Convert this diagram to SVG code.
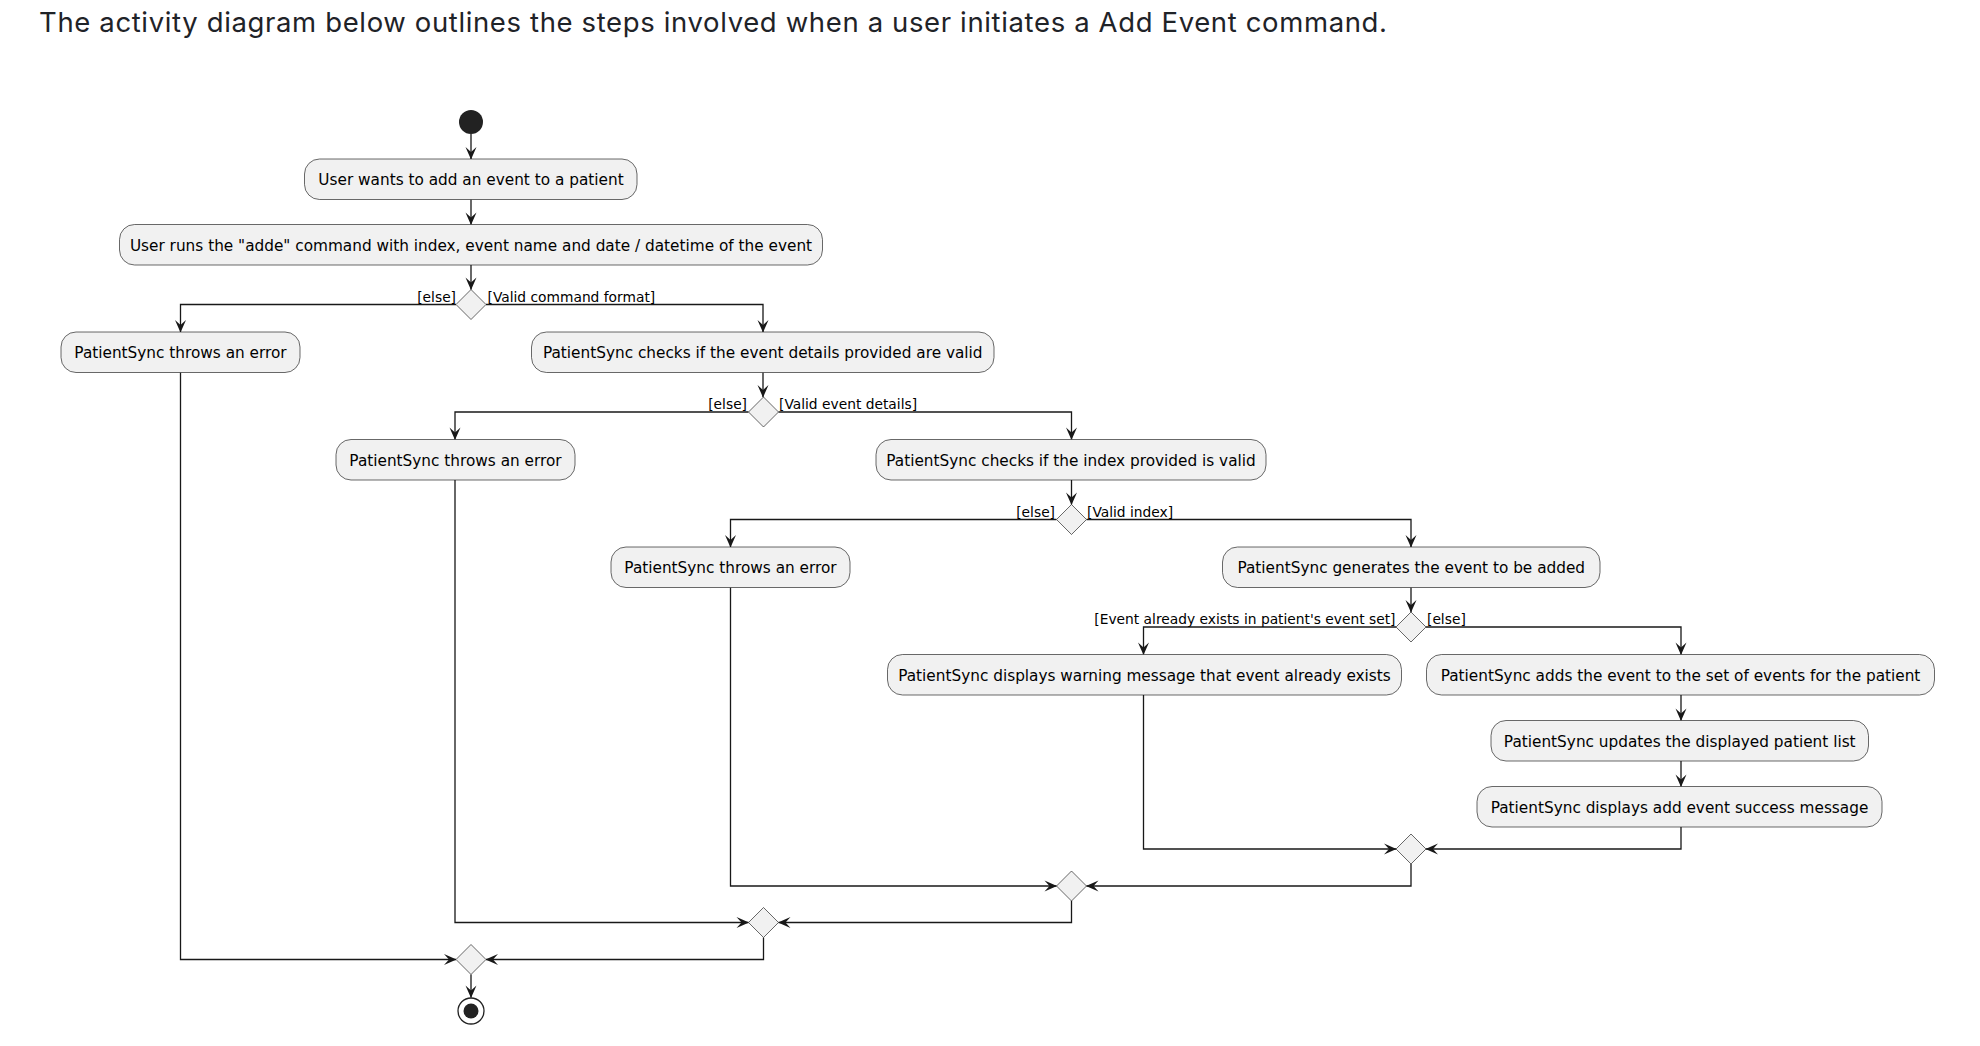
<svg xmlns="http://www.w3.org/2000/svg" width="1980" height="1046" viewBox="0 0 1980 1046">
<style>
.title{font-family:Inter,"Liberation Sans",sans-serif;font-size:27.5px;fill:#1F2328}
.box{fill:#F1F1F1;stroke:#181818;stroke-width:0.65}
.dia{fill:#F1F1F1;stroke:#181818;stroke-width:0.65}
.t{font-family:"DejaVu Sans",sans-serif;font-size:15.3px;fill:#000;text-anchor:middle}
.lbl{font-family:"DejaVu Sans",sans-serif;font-size:13.8px;fill:#000}
.r{text-anchor:end}
.c{fill:none;stroke:#181818;stroke-width:1.3}
.a{marker-end:url(#arr)}
</style>
<defs>
<marker id="arr" markerUnits="userSpaceOnUse" orient="auto" refX="0" refY="0" markerWidth="20" markerHeight="20" overflow="visible">
<path d="M0.5,0 L-12,-5.5 L-7,0 L-12,5.5 Z" fill="#181818"/>
</marker>
</defs>
<rect width="1980" height="1046" fill="#fff"/>
<text class="title" x="39" y="31.7" textLength="1348" lengthAdjust="spacing">The activity diagram below outlines the steps involved when a user initiates a Add Event command.</text>

<g id="connectors">
<path class="c a" d="M471,134 V159"/>
<path class="c a" d="M471,199.5 V224.5"/>
<path class="c a" d="M471,265 V289.5"/>
<path class="c a" d="M456,304.5 H180.5 V332"/>
<path class="c a" d="M486,304.5 H763 V332"/>
<path class="c a" d="M763,372.5 V397"/>
<path class="c a" d="M748.5,412 H455 V439.5"/>
<path class="c a" d="M778.5,412 H1071.5 V439.5"/>
<path class="c a" d="M1071.5,480 V504.5"/>
<path class="c a" d="M1056.5,519.5 H730.5 V547"/>
<path class="c a" d="M1086.5,519.5 H1411 V547"/>
<path class="c a" d="M1411,587.5 V612"/>
<path class="c a" d="M1396,627 H1143.5 V654.5"/>
<path class="c a" d="M1426,627 H1681 V654.5"/>
<path class="c a" d="M1681,695 V720.5"/>
<path class="c a" d="M1681,761 V786.5"/>
<path class="c a" d="M1143.5,695 V849 H1396"/>
<path class="c a" d="M1681,827 V849 H1426"/>
<path class="c a" d="M1411,864 V886 H1086.5"/>
<path class="c a" d="M730.5,587.5 V886 H1056.5"/>
<path class="c a" d="M1071.5,901 V922.5 H778.5"/>
<path class="c a" d="M455,480 V922.5 H748.5"/>
<path class="c a" d="M763.5,937.5 V959.5 H486"/>
<path class="c a" d="M180.5,372.5 V959.5 H456"/>
<path class="c a" d="M471,974.5 V997.5"/>
<text class="lbl r" x="456" y="301.5">[else]</text>
<text class="lbl" x="487.5" y="301.5">[Valid command format]</text>
<text class="lbl r" x="747" y="409">[else]</text>
<text class="lbl" x="779" y="409">[Valid event details]</text>
<text class="lbl r" x="1055" y="516.5">[else]</text>
<text class="lbl" x="1087" y="516.5">[Valid index]</text>
<text class="lbl r" x="1395.5" y="624">[Event already exists in patient's event set]</text>
<text class="lbl" x="1427" y="624">[else]</text>
</g>

<g id="start"><circle cx="471" cy="122" r="12" fill="#222"/></g>
<g id="n1"><rect class="box" x="304.5" y="159" width="332.5" height="40.5" rx="15"/><text class="t" x="471" y="185">User wants to add an event to a patient</text></g>
<g id="n2"><rect class="box" x="119.5" y="224.5" width="703" height="40.5" rx="15"/><text class="t" x="471" y="250.5">User runs the &quot;adde&quot; command with index, event name and date / datetime of the event</text></g>
<g id="d1"><path class="dia" d="M471,289.5 L486,304.5 L471,319.5 L456,304.5 Z"/></g>
<g id="e1"><rect class="box" x="61" y="332" width="239" height="40.5" rx="15"/><text class="t" x="180.5" y="358">PatientSync throws an error</text></g>
<g id="n3"><rect class="box" x="531.5" y="332" width="462.5" height="40.5" rx="15"/><text class="t" x="762.75" y="358">PatientSync checks if the event details provided are valid</text></g>
<g id="d2"><path class="dia" d="M763.5,397 L778.5,412 L763.5,427 L748.5,412 Z"/></g>
<g id="e2"><rect class="box" x="336" y="439.5" width="239" height="40.5" rx="15"/><text class="t" x="455.5" y="465.5">PatientSync throws an error</text></g>
<g id="n4"><rect class="box" x="876" y="439.5" width="390" height="40.5" rx="15"/><text class="t" x="1071" y="465.5">PatientSync checks if the index provided is valid</text></g>
<g id="d3"><path class="dia" d="M1071.5,504.5 L1086.5,519.5 L1071.5,534.5 L1056.5,519.5 Z"/></g>
<g id="e3"><rect class="box" x="611" y="547" width="239" height="40.5" rx="15"/><text class="t" x="730.5" y="573">PatientSync throws an error</text></g>
<g id="n5"><rect class="box" x="1222.5" y="547" width="377.5" height="40.5" rx="15"/><text class="t" x="1411.25" y="573">PatientSync generates the event to be added</text></g>
<g id="d4"><path class="dia" d="M1411,612 L1426,627 L1411,642 L1396,627 Z"/></g>
<g id="n6"><rect class="box" x="887.5" y="654.5" width="514" height="40.5" rx="15"/><text class="t" x="1144.5" y="680.5">PatientSync displays warning message that event already exists</text></g>
<g id="n7"><rect class="box" x="1426.5" y="654.5" width="508" height="40.5" rx="15"/><text class="t" x="1680.5" y="680.5">PatientSync adds the event to the set of events for the patient</text></g>
<g id="n8"><rect class="box" x="1491" y="720.5" width="377.5" height="40.5" rx="15"/><text class="t" x="1679.75" y="746.5">PatientSync updates the displayed patient list</text></g>
<g id="n9"><rect class="box" x="1477" y="786.5" width="405" height="40.5" rx="15"/><text class="t" x="1679.5" y="812.5">PatientSync displays add event success message</text></g>
<g id="m4"><path class="dia" d="M1411,834 L1426,849 L1411,864 L1396,849 Z"/></g>
<g id="m3"><path class="dia" d="M1071.5,871 L1086.5,886 L1071.5,901 L1056.5,886 Z"/></g>
<g id="m2"><path class="dia" d="M763.5,907.5 L778.5,922.5 L763.5,937.5 L748.5,922.5 Z"/></g>
<g id="m1"><path class="dia" d="M471,944.5 L486,959.5 L471,974.5 L456,959.5 Z"/></g>
<g id="end"><circle cx="471" cy="1011" r="13" fill="#fff" stroke="#222" stroke-width="1.3"/><circle cx="471" cy="1011" r="7.5" fill="#222"/></g>
</svg>
